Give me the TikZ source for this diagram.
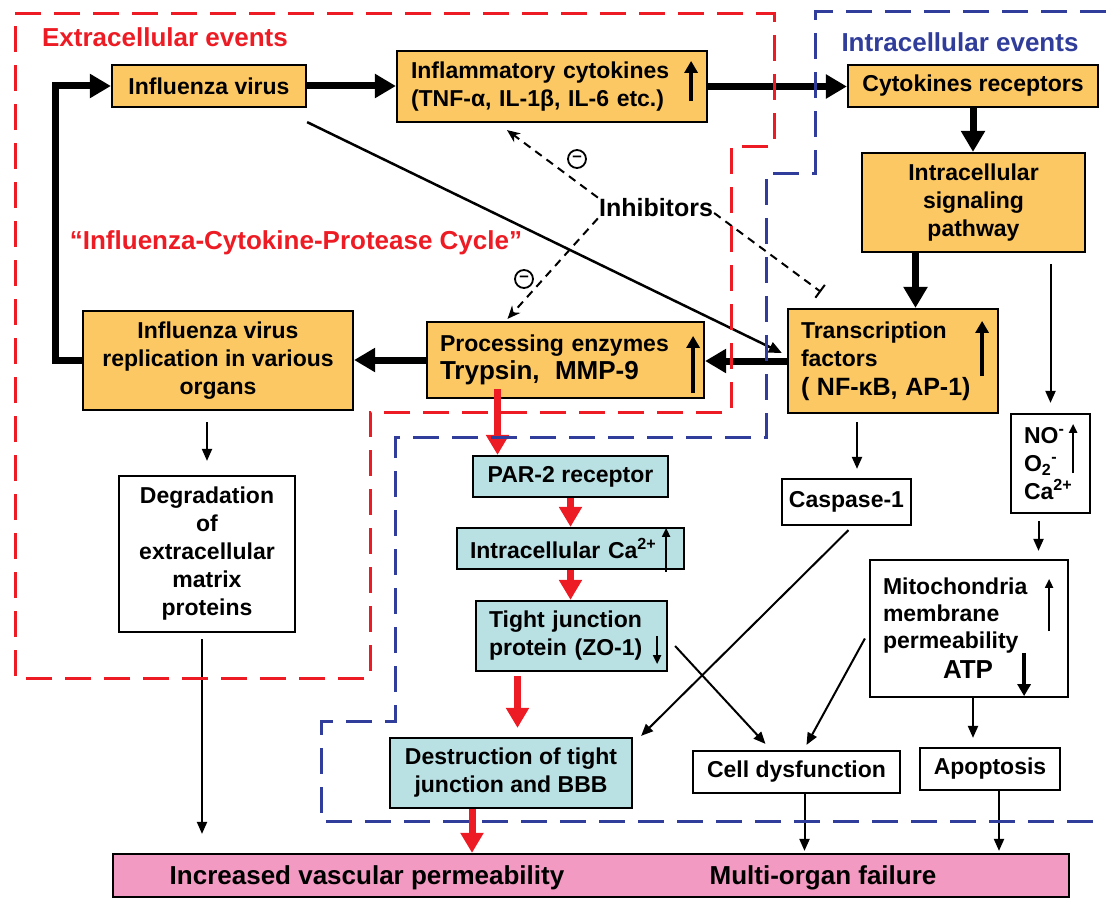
\documentclass[tikz,border=0pt]{standalone}
\usepackage{fontspec}
\setmainfont{Liberation Sans}
\usepackage{tikz}
\usetikzlibrary{arrows.meta}
\definecolor{cycleOrange}{HTML}{FBC864}
\definecolor{cycleCyan}{HTML}{B9E0E3}
\definecolor{cyclePink}{HTML}{F29AC1}
\definecolor{cycleRed}{HTML}{ED1C24}
\definecolor{cycleBlue}{HTML}{303D9A}

\begin{document}
\begin{tikzpicture}[x=1pt, y=-1pt,
            every node/.style={font=\fontsize{23}{28}\selectfont\bfseries},
            bigtext/.style={font=\fontsize{26}{30}\selectfont\bfseries, inner sep=1pt},
            orangebox/.style={draw, line width=2.2pt, fill=cycleOrange, inner sep=0pt, align=center},
            cyanbox/.style={draw, line width=2.2pt, fill=cycleCyan, inner sep=0pt, align=center},
            whitebox/.style={draw, line width=2.2pt, fill=white, inner sep=0pt, align=center},
            leftbox/.style={inner xsep=13pt, align=left},
            thickarrow/.style={line width=7pt, -{Triangle[length=21pt,width=23pt]}},
            redarrow/.style={cycleRed, line width=7pt, -{Triangle[length=20pt,width=22pt]}},
            thinarrow/.style={line width=2pt, -{Triangle[length=12pt,width=10pt]}},
            inhibarrow/.style={line width=2pt, dash pattern=on 8pt off 6pt, -{Stealth[length=13pt,width=11pt]}},
            inhibbar/.style={line width=2pt, dash pattern=on 8pt off 6pt, -{Bar[width=16pt]}},
            boldtick/.style={line width=4pt, -{Triangle[length=12pt,width=13pt]}},
            slimtick/.style={line width=2pt, -{Triangle[length=9pt,width=8pt]}},
            minuscircle/.style={circle, draw, line width=1.8pt, inner sep=0pt, minimum size=18pt, font=\fontsize{17}{17}\selectfont\bfseries},
            extraline/.style={cycleRed, line width=3pt, dash pattern=on 26pt off 13pt},
            intraline/.style={cycleBlue, line width=3pt, dash pattern=on 26pt off 13pt}]
            \useasboundingbox (0,0) rectangle (1106,899);

            \node[bigtext, text=cycleRed] (extraTitle) at (165,37) {Extracellular events};
            \node[bigtext, text=cycleBlue] (intraTitle) at (960,42) {Intracellular events};
            \node[bigtext, text=cycleRed] (cycleTitle) at (296,243) {“Influenza-Cytokine-Protease Cycle”};

            \node[orangebox, minimum width=194pt, minimum height=42pt] (virus) at (209,86) {Influenza virus};
            \node[orangebox, leftbox, text width=282pt, inner xsep=14pt, minimum height=71pt] (cytokines) at (552,86.5) {Inflammatory cytokines\\(TNF-α, IL-1β, IL-6 etc.)};
            \node[orangebox, minimum width=250pt, minimum height=42pt] (receptors) at (973,86) {Cytokines receptors};
            \node[orangebox, minimum width=223pt, minimum height=99pt] (signaling) at (973.5,202.5) {Intracellular\\signaling\\pathway};
            \node[orangebox, leftbox, text width=184pt, minimum height=104pt] (transcription) at (893,361) {Transcription\\factors\\[1pt]{\fontsize{25}{30}\selectfont ( NF-κB, AP-1)}};
            \node[orangebox, leftbox, text width=251pt, minimum height=76pt] (enzymes) at (565.5,360) {Processing enzymes\\{\fontsize{26}{30}\selectfont Trypsin,~~MMP-9}};
            \node[orangebox, minimum width=270pt, minimum height=99pt] (replication) at (218,360.5) {Influenza virus\\replication in various\\organs};

            \node[whitebox, minimum width=176pt, minimum height=156pt] (degradation) at (207,554) {Degradation\\of\\extracellular\\matrix\\proteins};
            \node[whitebox, minimum width=129pt, minimum height=46pt] (caspase) at (846.5,502) {Caspase-1};
            \node[whitebox, leftbox, text width=53pt, minimum height=99pt, font=\fontsize{23}{28}\selectfont\bfseries] (radicals) at (1050.5,463.5) {NO\textsuperscript{-}\\O\textsubscript{2}\textsuperscript{-}\\Ca\textsuperscript{2+}};
            \node[whitebox, leftbox, text width=172pt, minimum height=137pt, font=\fontsize{23}{27}\selectfont\bfseries] (mitochondria) at (969,628.5) {Mitochondria\\membrane\\permeability\\[3pt]\hspace*{60pt}{\fontsize{26}{30}\selectfont ATP}};
            \node[whitebox, minimum width=140pt, minimum height=42pt] (apoptosis) at (990,769) {Apoptosis};
            \node[whitebox, minimum width=207pt, minimum height=42pt] (dysfunction) at (796.5,772) {Cell dysfunction};

            \node[cyanbox, minimum width=195pt, minimum height=41pt] (par) at (570.5,476.5) {PAR-2 receptor};
            \node[cyanbox, leftbox, text width=201pt, minimum height=41pt] (calcium) at (570.5,548.5) {Intracellular Ca\textsuperscript{2+}};
            \node[cyanbox, leftbox, text width=165pt, minimum height=70pt] (tightjunction) at (571.5,636) {Tight junction\\protein (ZO-1)};
            \node[cyanbox, minimum width=242pt, minimum height=70pt] (destruction) at (511,773) {Destruction of tight\\junction and BBB};

            \node[draw, line width=2.2pt, fill=cyclePink, minimum width=956pt, minimum height=43pt, inner sep=0pt] (outcome) at (591,875.5) {};
            \node[bigtext] (vascular) at (367,878) {Increased vascular permeability};
            \node[bigtext] (failure) at (823,878) {Multi-organ failure};

            \node[font=\fontsize{25}{30}\selectfont\bfseries, inner sep=1pt] (inhibitors) at (656,208) {Inhibitors};
            \node[minuscircle] (minusA) at (577,159) {\raisebox{1pt}{–}};
            \node[minuscircle] (minusB) at (524,279) {\raisebox{1pt}{–}};

            \draw[thickarrow] (virus.east) -- (virus.east -| cytokines.west);
            \draw[thickarrow] (cytokines.east) -- (cytokines.east -| receptors.west);
            \draw[thickarrow] (receptors.south) -- (receptors.south |- signaling.north);
            \draw[thickarrow] ([xshift=-58pt]signaling.south) -- ([xshift=-58pt]signaling.south |- transcription.north);
            \draw[thickarrow] (transcription.west) -- (transcription.west -| enzymes.east);
            \draw[thickarrow] (enzymes.west) -- (enzymes.west -| replication.east);
            \draw[thickarrow] (replication.west) -- ++(-26,0) |- (virus.west);
            \draw[line width=2.5pt, -{Triangle[length=13pt,width=11pt]}] ([yshift=-14pt]virus.south east) -- ([xshift=-5pt,yshift=8pt]transcription.west);

            \draw[inhibarrow] (inhibitors.north west) -- ([xshift=-45pt,yshift=-7pt]cytokines.south);
            \draw[inhibarrow] (inhibitors.south west) -- ([xshift=-58pt,yshift=2pt]enzymes.north);
            \draw[inhibbar] ([yshift=-5pt]inhibitors.east) -- ([xshift=34pt,yshift=16pt]transcription.north west);

            \draw[redarrow] ([xshift=-68pt,yshift=10pt]enzymes.south) -- ([xshift=-68pt]enzymes.south |- par.north);
            \draw[redarrow] (par.south) -- (par.south |- calcium.north);
            \draw[redarrow] (calcium.south) -- (calcium.south |- tightjunction.north);
            \draw[redarrow, shorten >=9pt] ([xshift=-54pt,yshift=-4pt]tightjunction.south) -- ([xshift=-54pt]tightjunction.south |- destruction.north);
            \draw[redarrow] ([xshift=-39pt]destruction.south) -- ([xshift=-39pt]destruction.south |- outcome.north);

            \draw[thinarrow, shorten <=11pt, shorten >=14pt] (degradation.north |- replication.south) -- (degradation.north);
            \draw[thinarrow, shorten <=6pt, shorten >=19pt] ([xshift=-5pt]degradation.south) -- ([xshift=-5pt]degradation.south |- outcome.north);
            \draw[thinarrow, shorten <=8pt, shorten >=9pt] ([xshift=-36pt]transcription.south) -- ([xshift=-36pt]transcription.south |- caspase.north);
            \draw[thinarrow, shorten <=11pt, shorten >=10pt] (signaling.south -| radicals.north) -- (radicals.north);
            \draw[thinarrow, shorten <=7pt, shorten >=8pt] ([xshift=-12pt]radicals.south) -- ([xshift=-12pt]radicals.south |- mitochondria.north);
            \draw[thinarrow, shorten >=9pt] ([xshift=4pt]mitochondria.south) -- ([xshift=4pt]mitochondria.south |- apoptosis.north);
            \draw[thinarrow, shorten >=2pt] ([xshift=8pt]dysfunction.south) -- ([xshift=8pt]dysfunction.south |- outcome.north);
            \draw[thinarrow, shorten >=2pt] ([xshift=9pt]apoptosis.south) -- ([xshift=9pt]apoptosis.south |- outcome.north);
            \draw[thinarrow] ([xshift=2pt,yshift=-4pt]caspase.south) -- ([xshift=8pt,yshift=1pt]destruction.north east);
            \draw[thinarrow] ([xshift=7pt,yshift=-10pt]tightjunction.east) -- ([xshift=-31pt,yshift=6pt]dysfunction.north);
            \draw[thinarrow] ([xshift=-4pt,yshift=-10pt]mitochondria.west) -- ([xshift=10pt,yshift=5pt]dysfunction.north);

            \draw[boldtick] ([xshift=-17pt,yshift=22pt]cytokines.south east) -- ([xshift=-17pt,yshift=-11pt]cytokines.north east);
            \draw[boldtick] ([xshift=-12pt,yshift=6pt]enzymes.south east) -- ([xshift=-12pt,yshift=-15pt]enzymes.north east);
            \draw[boldtick] ([xshift=-17pt,yshift=38pt]transcription.south east) -- ([xshift=-17pt,yshift=-13pt]transcription.north east);
            \draw[slimtick] ([xshift=-19pt,yshift=-2pt]calcium.south east) -- ([xshift=-19pt,yshift=-1pt]calcium.north east);
            \draw[slimtick] ([xshift=-11pt,yshift=-36pt]tightjunction.north east) -- ([xshift=-11pt,yshift=8pt]tightjunction.south east);
            \draw[slimtick, line width=2.5pt] ([xshift=-18pt,yshift=41pt]radicals.south east) -- ([xshift=-18pt,yshift=-11pt]radicals.north east);
            \draw[slimtick] ([xshift=-20pt,yshift=67pt]mitochondria.south east) -- ([xshift=-20pt,yshift=-20pt]mitochondria.north east);
            \draw[boldtick] ([xshift=-45pt,yshift=-94pt]mitochondria.north east) -- ([xshift=-45pt,yshift=2pt]mitochondria.south east);

            \draw[extraline] (15,14) -- (774,14) -- (774,146) -- (731,146) -- (731,412) -- (370,412) -- (370,678) -- (15,678) -- cycle;
            \draw[intraline] (1106,12) -- (815,12) -- (815,173) -- (766,173) -- (766,437) -- (395,437) -- (395,721) -- (321,721) -- (321,821) -- (1106,821);
        \end{tikzpicture}
\end{document}
